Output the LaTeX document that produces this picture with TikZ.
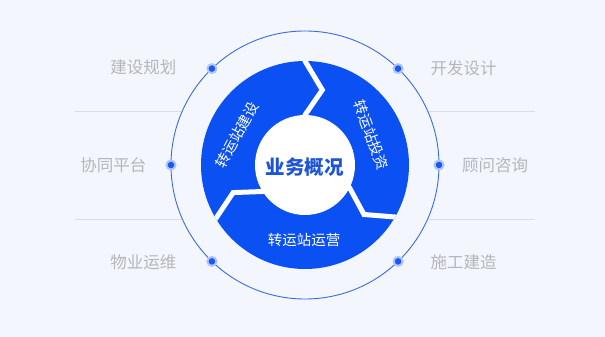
\documentclass[tikz,border=0pt]{standalone}
\usepackage{fontspec}
\setmainfont{Noto Sans CJK SC}
\definecolor{bg}{HTML}{F3F6FD}
\definecolor{ringblue}{HTML}{0B50F3}
\definecolor{dotblue}{HTML}{1A58F0}
\definecolor{linecirc}{HTML}{3A6BE0}
\definecolor{labelgray}{HTML}{B4B6BA}
\definecolor{sepgray}{HTML}{DADDE3}
\definecolor{centerblue}{HTML}{1D55D6}
\tikzset{
  sidelabel/.style={text=labelgray,font=\fontsize{16.5}{18}\selectfont,inner sep=0pt},
  seglabel/.style={text=white,font=\fontsize{14.5}{16}\selectfont,inner sep=0pt},
  sepline/.style={draw=sepgray,line width=0.8pt},
  dotnode/.style={circle,fill=dotblue,minimum size=9pt,inner sep=0pt,
    draw=dotblue!35,line width=2pt},
  gapline/.style={draw=white,line width=5pt,line join=miter}
}
\begin{document}
\begin{tikzpicture}[x=1pt,y=1pt]
\fill[bg] (-305,-172) rectangle (300,165);
\useasboundingbox (-305,-172) rectangle (300,165);
\def\Ro{104}\def\Ri{50}\def\Rm{77}
% separator lines
\coordinate (l1a) at (-230,54); \coordinate (l1b) at (-122.6,54);
\coordinate (l2a) at (-230,-54); \coordinate (l2b) at (-122.6,-54);
\coordinate (r1a) at (122.6,54); \coordinate (r1b) at (230,54);
\coordinate (r2a) at (122.6,-54); \coordinate (r2b) at (230,-54);
\draw[sepline] (l1a) -- (l1b);
\draw[sepline] (l2a) -- (l2b);
\draw[sepline] (r1a) -- (r1b);
\draw[sepline] (r2a) -- (r2b);
% outer thin circle
\draw[linecirc,line width=0.9pt] (0,0) circle (134);
% blue ring
\fill[ringblue] (0,0) circle (\Ro);
\begin{scope}
\clip (0,0) circle (\Ro);
\draw[gapline] (90:\Ro+8) -- (90:\Ro) -- (77:\Rm) -- (90:\Ri) -- (90:\Ri-6);
\draw[gapline] (-30:\Ro+8) -- (-30:\Ro) -- (-40:\Rm) -- (-27:\Ri) -- (-27:\Ri-6);
\draw[gapline] (211:\Ro+8) -- (211:\Ro) -- (201:\Rm) -- (212:\Ri) -- (212:\Ri-6);
\end{scope}
\fill[white] (0,0) circle (\Ri);
% dots
\node[dotnode] (d1) at (134:134) {};
\node[dotnode] (d2) at (180:134) {};
\node[dotnode] (d3) at (226:134) {};
\node[dotnode] (d4) at (46:134) {};
\node[dotnode] (d5) at (0:134) {};
\node[dotnode] (d6) at (-46:134) {};
% side labels
\node[sidelabel] (t1) at (-161.5,98) {建设规划};
\node[sidelabel] (t2) at (-191.5,0) {协同平台};
\node[sidelabel] (t3) at (-161.5,-97) {物业运维};
\node[sidelabel] (t4) at (158.5,97) {开发设计};
\node[sidelabel] (t5) at (190,0) {顾问咨询};
\node[sidelabel] (t6) at (158.5,-97) {施工建造};
% segment labels
\node[seglabel,rotate=62] (s1) at (-68,30) {转运站建设};
\node[seglabel,rotate=-70] (s2) at (66,30) {转运站投资};
\node[seglabel] (s3) at (-1,-75) {转运站运营};
% center
\node[text=centerblue,font=\fontsize{19.5}{22}\selectfont\bfseries,inner sep=0pt] (c) at (0,-2) {业务概况};
\end{tikzpicture}
\end{document}
